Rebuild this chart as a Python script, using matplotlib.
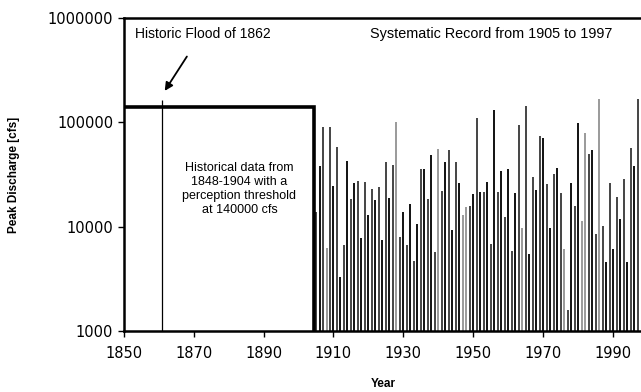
import matplotlib
matplotlib.use("Agg")
import matplotlib.pyplot as plt
from matplotlib.ticker import FixedLocator, FixedFormatter

# ---- data ----
years = list(range(1905, 1998))
peaks = [13700, 37900, 89700, 6250, 89700, 24700, 58500, 3270, 6680, 42900,
         18400, 26100, 27600, 7730, 26600, 13000, 23000, 17800, 24200, 7450,
         41400, 18800, 39000, 101600, 8030, 13700, 6680, 16500, 4660, 10600,
         35700, 35300, 18400, 48700, 5760, 55600, 21700, 41400, 54800, 9300,
         41400, 26100, 12800, 15300, 15900, 20600, 109000, 21300, 21300, 26600,
         6800, 130000, 21300, 34400, 12300, 35300, 5890, 21000, 94400, 9720,
         143000, 5470, 30200, 22600, 73500, 70400, 25700, 9720, 32000, 36300,
         21000, 6110, 1570, 26100, 15900, 98700, 11300, 79100, 49400, 54800,
         8510, 168000, 10200, 4550, 26100, 6110, 19100, 11900, 28700, 4550,
         56500, 37900, 168000]
light_years = [1908, 1928, 1940, 1947, 1948, 1964, 1976, 1981, 1982, 1986]

flood_year = 1861
flood_peak = 163000
threshold_start = 1850
threshold_end = 1904.5
threshold = 140000

y_ticks = [1000, 10000, 100000, 1000000]
y_labels = ["1000", "10000", "100000", "1000000"]
x_ticks = [1850, 1870, 1890, 1910, 1930, 1950, 1970, 1990]

# ---- plot ----
plt.rcParams['font.family'] = ['Liberation Sans', 'DejaVu Sans']
fig = plt.figure(figsize=(6.41, 3.92), dpi=100)
ax = fig.add_axes([0.193, 0.156, 0.81, 0.798])
ax.set_yscale('log')
ax.set_xlim(1850, 1998.5)
ax.set_ylim(1000, 1000000)

colors = ['#9a9a9a' if y in light_years else ('#111111' if i % 2 else '#444444')
          for i, y in enumerate(years)]
ax.vlines(years, 1000, peaks, colors=colors, lw=1.4)

ax.vlines([flood_year], 1000, [flood_peak], colors='black', lw=0.9)
ax.plot([threshold_start, threshold_end, threshold_end], [threshold, threshold, 1000],
        color='black', lw=2.6, solid_joinstyle='miter')

for s in ['left', 'bottom', 'top']:
    ax.spines[s].set_linewidth(1.8)
ax.spines['right'].set_visible(False)

ax.yaxis.set_major_locator(FixedLocator(y_ticks))
ax.yaxis.set_major_formatter(FixedFormatter(y_labels))
ax.yaxis.set_minor_locator(FixedLocator([]))
ax.set_xticks(x_ticks)
ax.tick_params(axis='both', which='major', labelsize=10.5, length=4, width=1, direction='out')
ax.tick_params(axis='x', pad=7)
for lab in ax.get_yticklabels() + ax.get_xticklabels():
    lab.set_fontfamily('DejaVu Sans')

ax.set_ylabel('Peak Discharge [cfs]', fontsize=8.5, fontweight='bold', labelpad=20)
ax.set_xlabel('Year', fontsize=8.5, fontweight='bold', labelpad=12)

ax.text(0.022, 0.95, 'Historic Flood of 1862', transform=ax.transAxes,
        fontsize=10, va='center', ha='left')
ax.text(0.4746, 0.95, 'Systematic Record from 1905 to 1997', transform=ax.transAxes,
        fontsize=10.4, va='center', ha='left')
ax.annotate('', xy=(1861.3, 190000), xytext=(1868.5, 450000),
            arrowprops=dict(arrowstyle='-|>', color='black', lw=1.3, mutation_scale=12))
ax.text(1883.1, 22900, 'Historical data from\n1848-1904 with a\nperception threshold\nat 140000 cfs',
        fontsize=9, ha='center', va='center', linespacing=1.2)

fig.savefig('out.png', dpi=100)
